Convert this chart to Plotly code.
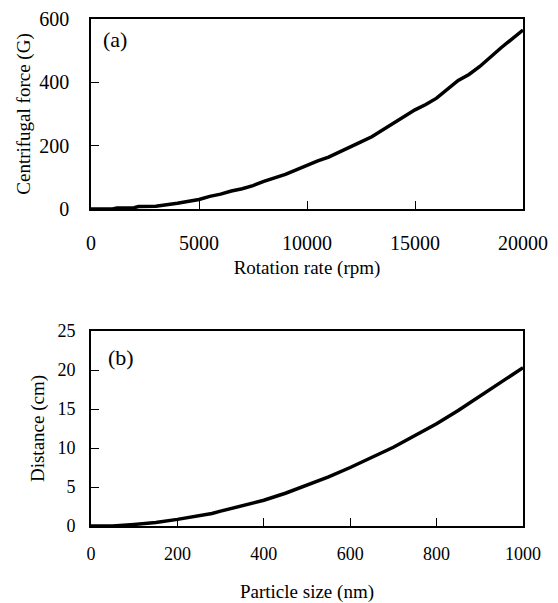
import plotly.graph_objects as go

# Panel (a): centrifugal force vs rotation rate
rpm = [0, 1000, 1200, 2000, 2200, 3000, 4000, 5000, 5500, 6000, 6500, 7000, 7500,
       8000, 9000, 9500, 10000, 10500, 11000, 12000, 12500, 13000, 14000, 15000,
       15500, 16000, 17000, 17500, 18000, 19000, 20000]
force = [0, 0, 3, 4, 8, 9, 18, 30, 40, 47, 57, 64, 74, 87, 109, 124, 138, 152, 164,
         198, 212, 228, 270, 313, 330, 350, 406, 425, 450, 510, 565]

# Panel (b): distance vs particle size
size_nm = [0, 50, 100, 150, 200, 250, 280, 300, 350, 400, 450, 500, 530, 550, 600,
           650, 700, 750, 800, 850, 900, 950, 980, 1000]
distance = [0, 0, 0.2, 0.45, 0.85, 1.3, 1.6, 1.9, 2.6, 3.3, 4.2, 5.2, 5.9, 6.3, 7.5,
            8.8, 10.1, 11.6, 13.1, 14.8, 16.6, 18.4, 19.6, 20.3]

FONT = "Liberation Serif"
W, H = 558, 603

fig = go.Figure()
fig.add_trace(go.Scatter(x=rpm, y=force, mode="lines",
                         line=dict(color="black", width=3.5), xaxis="x", yaxis="y",
                         showlegend=False, hoverinfo="skip"))
fig.add_trace(go.Scatter(x=size_nm, y=distance, mode="lines",
                         line=dict(color="black", width=3.5), xaxis="x2", yaxis="y2",
                         showlegend=False, hoverinfo="skip"))

xdom = [91 / W, 523 / W]
ydom_a = [1 - 209 / H, 1 - 19 / H]
ydom_b = [1 - 526 / H, 1 - 331 / H]

def axis_common(tsize):
    return dict(
        showline=True, linecolor="black", linewidth=1.6, mirror=True,
        ticks="inside", ticklen=8, tickwidth=1, tickcolor="black",
        showgrid=False, zeroline=False, automargin=False, tickformat="d",
        tickfont=dict(family=FONT, size=tsize, color="black"),
        title_font=dict(family=FONT, size=19, color="black"),
    )

fig.update_layout(
    width=W, height=H,
    margin=dict(l=0, r=0, t=0, b=0),
    paper_bgcolor="white", plot_bgcolor="white",
    font=dict(family=FONT, color="black"),
    xaxis=dict(domain=xdom, anchor="y", range=[0, 20000], tickvals=[0, 5000, 10000, 15000, 20000],
               ticklabelstandoff=15, title=dict(text="Rotation rate (rpm)", standoff=8),
               **axis_common(20)),
    yaxis=dict(domain=ydom_a, anchor="x", range=[0, 600], tickvals=[0, 200, 400, 600],
               ticklabelstandoff=16, title=dict(text="Centrifugal force (G)", standoff=4),
               **axis_common(20)),
    xaxis2=dict(domain=xdom, anchor="y2", range=[0, 1000], tickvals=[0, 200, 400, 600, 800, 1000],
                ticklabelstandoff=11, title=dict(text="Particle size (nm)", standoff=27),
                **axis_common(18)),
    yaxis2=dict(domain=ydom_b, anchor="x2", range=[0, 25], tickvals=[0, 5, 10, 15, 20, 25],
                ticklabelstandoff=10, title=dict(text="Distance (cm)", standoff=8),
                **axis_common(18)),
    annotations=[
        dict(text="(a)", xref="paper", yref="paper", x=101 / W, y=1 - 39 / H,
             xanchor="left", yanchor="middle", showarrow=False,
             font=dict(family=FONT, size=22, color="black")),
        dict(text="(b)", xref="paper", yref="paper", x=106 / W, y=1 - 357 / H,
             xanchor="left", yanchor="middle", showarrow=False,
             font=dict(family=FONT, size=22, color="black")),
    ],
)

fig.write_html("out.html", config={"displayModeBar": False},
               post_script="document.body.style.margin='0';document.body.style.padding='0';")
